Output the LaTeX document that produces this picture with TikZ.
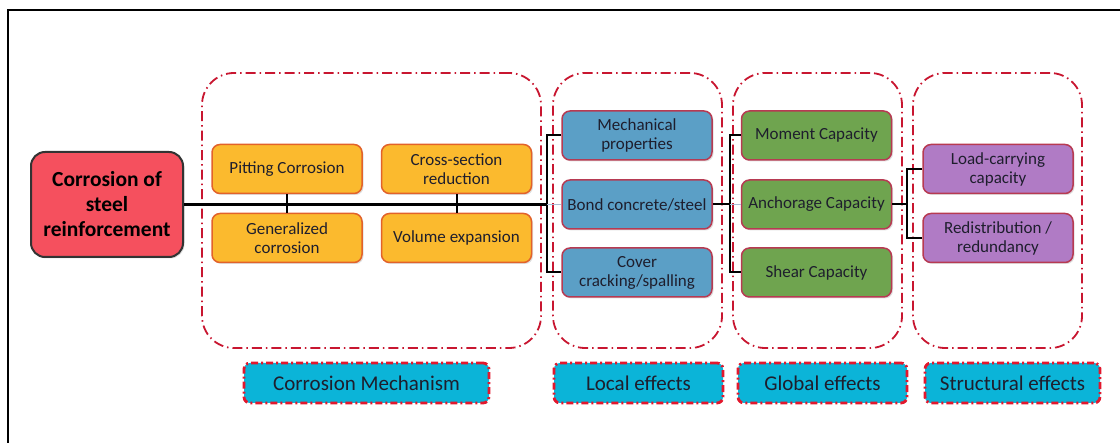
\documentclass[tikz,border=0pt]{standalone}
\usepackage{fontspec}
\setmainfont{Carlito}
\usepackage{tikz}
\usetikzlibrary{shadows}
\definecolor{redbox}{RGB}{245,80,94}
\definecolor{orangebox}{RGB}{251,186,46}
\definecolor{orangeedge}{RGB}{226,98,42}
\definecolor{bluebox}{RGB}{91,159,198}
\definecolor{greenbox}{RGB}{111,164,79}
\definecolor{purplebox}{RGB}{176,123,197}
\definecolor{boxedge}{RGB}{183,58,82}
\definecolor{dashred}{RGB}{200,22,48}
\definecolor{labred}{RGB}{226,24,45}
\definecolor{labcyan}{RGB}{11,180,216}
\definecolor{boxtext}{RGB}{30,30,45}
\definecolor{faint}{RGB}{170,190,215}

\begin{document}
\begin{tikzpicture}
[
x=1pt,y=-1pt,
box/.style 2 args={draw=#2,fill=#1,line width=1.5pt,rounded corners=8pt,inner sep=2pt,
            minimum width=150pt,minimum height=49pt,align=center,text=boxtext,
            font=\fontsize{17}{19}\selectfont,
            drop shadow={opacity=0.25,shadow xshift=1.5pt,shadow yshift=-1.5pt}},
group/.style={draw=dashred,line width=1.8pt,rounded corners=32pt,
            dash pattern=on 10pt off 4pt on 1.5pt off 4pt,minimum width=#1,minimum height=275pt},
title/.style={draw=labred,fill=labcyan,line width=2.8pt,rounded corners=6pt,
            dash pattern=on 7pt off 3pt on 2pt off 3pt,minimum width=#1,minimum height=40pt,
            text=boxtext,font=\fontsize{21}{24}\selectfont},
wire/.style={draw=black,line width=2pt},
thin wire/.style={draw=faint,line width=0.8pt},
]
\useasboundingbox (0,0) rectangle (1120,443);
\draw[line width=2.5pt] (1130,10) -- (8,10) -- (8,455);

%Place the nodes
\node[group=339pt] (ga) at (371.5,210.5) {};
\node[group=169pt] (gb) at (637.5,210.5) {};
\node[group=169pt] (gc) at (817.5,210.5) {};
\node[group=169pt] (gd) at (997.5,210.5) {};

\node[draw=black!80,fill=redbox,line width=2pt,rounded corners=14pt,minimum width=152pt,
      minimum height=105pt,align=center,text=black,font=\bfseries\fontsize{21.5}{25}\selectfont,
      drop shadow={opacity=0.25,shadow xshift=1.5pt,shadow yshift=-1.5pt}]
      (a) at (107,204.5) {Corrosion of\\steel\\reinforcement};

\node[box={orangebox}{orangeedge}] (b1) at (287,169) {Pitting Corrosion};
\node[box={orangebox}{orangeedge}] (b2) at (287,238) {Generalized\\corrosion};
\node[box={orangebox}{orangeedge}] (b3) at (456.5,169) {Cross-section\\reduction};
\node[box={orangebox}{orangeedge}] (b4) at (456.5,238) {Volume expansion};

\node[box={bluebox}{boxedge}] (c1) at (637,135.5) {Mechanical\\properties};
\node[box={bluebox}{boxedge}] (c2) at (637,204.5) {Bond concrete/steel};
\node[box={bluebox}{boxedge}] (c3) at (637,272.5) {Cover\\cracking/spalling};

\node[box={greenbox}{boxedge}] (d1) at (816.5,135.5) {Moment Capacity};
\node[box={greenbox}{boxedge}] (d2) at (816.5,204.5) {Anchorage Capacity};
\node[box={greenbox}{boxedge}] (d3) at (816.5,272.5) {Shear Capacity};

\node[box={purplebox}{boxedge}] (e1) at (998,169) {Load-carrying\\capacity};
\node[box={purplebox}{boxedge}] (e2) at (998,238) {Redistribution /\\redundancy};

\node[title=245pt] (la) at (366.5,383) {Corrosion Mechanism};
\node[title=169pt] (lb) at (638.5,383) {Local effects};
\node[title=169pt] (lc) at (822.5,383) {Global effects};
\node[title=175pt] (ld) at (1012.5,383) {Structural effects};

\coordinate (j1) at (547,204.5);
\coordinate (j2) at (730,204.5);
\coordinate (j3) at (907,204.5);

%Draw the connections
\draw[wire,line width=2.5pt] (a) -- (j1);
\draw[wire] (b1) -- (b2);
\draw[wire] (b3) -- (b4);
\draw[wire] (c1.west) -| (j1);
\draw[wire] (c3.west) -| (j1);
\draw[thin wire] (j1) -- (c2);
\draw[wire] (c2) -- (j2);
\draw[wire] (d1.west) -| (j2);
\draw[wire] (d3.west) -| (j2);
\draw[thin wire] (j2) -- (d2);
\draw[wire] (d2) -- (j3);
\draw[wire] (e1.west) -| (j3);
\draw[wire] (e2.west) -| (j3);
\end{tikzpicture}
\end{document}
